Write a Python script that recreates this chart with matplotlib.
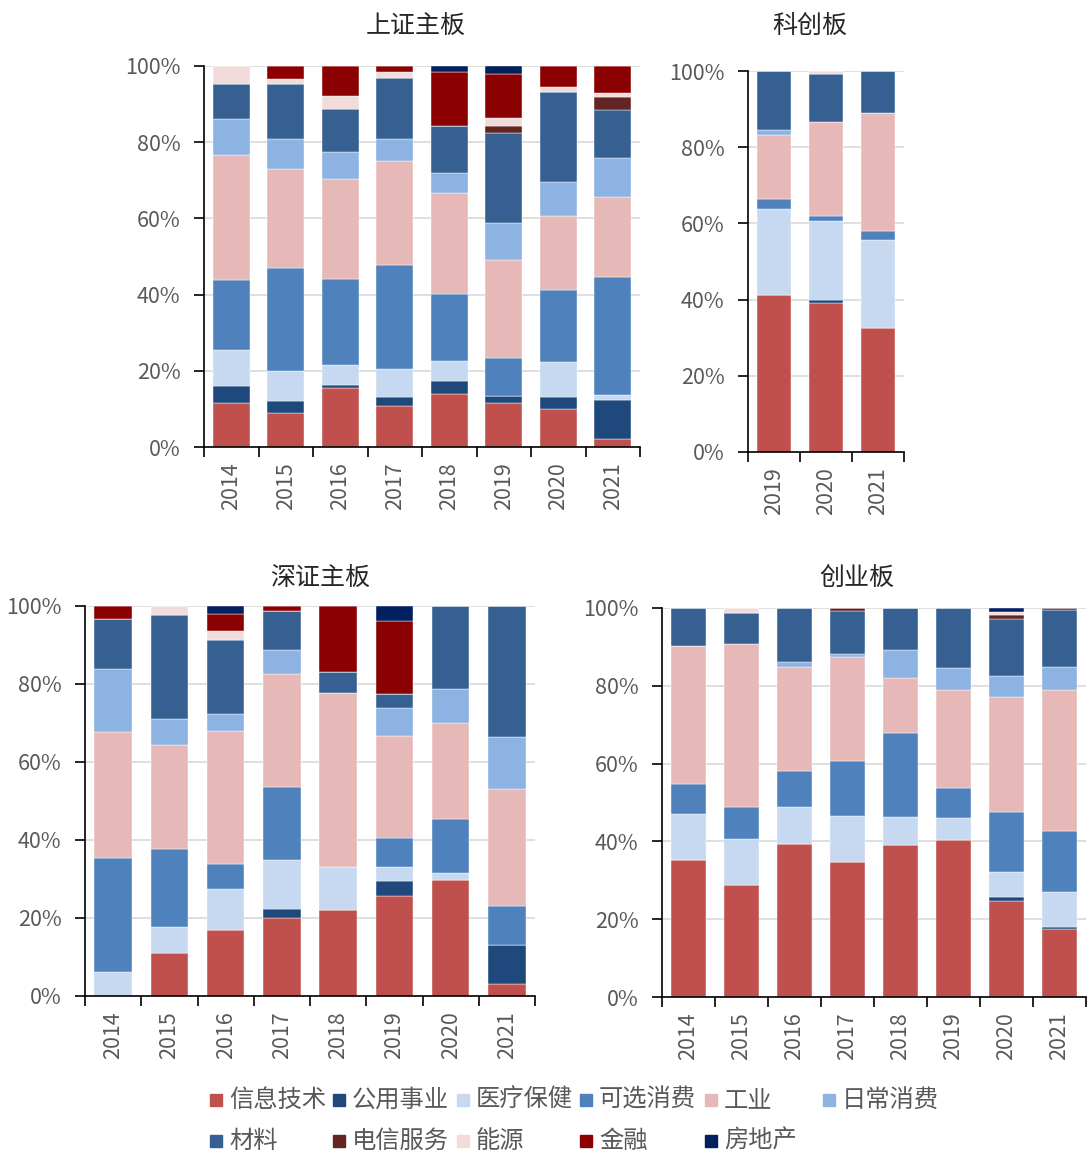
import numpy as np
import matplotlib
matplotlib.use("Agg")
import matplotlib.pyplot as plt
from matplotlib.patches import Rectangle
from matplotlib.ticker import PercentFormatter

plt.rcParams['font.family'] = ['Noto Sans CJK SC', 'DejaVu Sans']

# sector order (bottom -> top) and colours
sectors = ["信息技术", "公用事业", "医疗保健", "可选消费", "工业", "日常消费",
           "材料", "电信服务", "能源", "金融", "房地产"]
colors = ["#C0504D", "#1F497D", "#C6D9F1", "#4F81BD", "#E6B9B8", "#8DB3E2",
          "#366092", "#632523", "#F2DCDB", "#8B0000", "#002060"]

years8 = ["2014", "2015", "2016", "2017", "2018", "2019", "2020", "2021"]
years3 = ["2019", "2020", "2021"]

# 上证主板, % per sector (rows follow `sectors`)
sh_main = [
    [11.5, 8.8, 15.6, 10.8, 13.9, 11.5, 10.0, 2.1],
    [4.6, 3.4, 0.7, 2.2, 3.3, 2.0, 3.2, 10.3],
    [9.3, 7.8, 5.2, 7.5, 5.4, 0.0, 9.2, 1.3],
    [18.5, 27.0, 22.6, 27.3, 17.6, 9.8, 18.9, 31.0],
    [32.8, 26.0, 26.3, 27.2, 26.5, 25.7, 19.3, 20.8],
    [9.4, 7.9, 7.0, 5.8, 5.2, 9.7, 9.0, 10.3],
    [9.2, 14.5, 11.2, 16.1, 12.3, 23.6, 23.6, 12.7],
    [0, 0, 0, 0, 0, 2.0, 0, 3.4],
    [4.7, 1.1, 3.4, 1.6, 0, 2.0, 1.2, 1.1],
    [0, 3.5, 8.0, 1.5, 14.1, 11.7, 5.6, 7.0],
    [0, 0, 0, 0, 1.7, 2.0, 0, 0],
]

# 科创板
star = [
    [41.3, 39.1, 32.5],
    [0, 0.8, 0],
    [22.4, 20.6, 23.1],
    [2.7, 1.4, 2.3],
    [16.8, 24.8, 31.0],
    [1.3, 0, 0],
    [15.5, 12.4, 11.1],
    [0, 0, 0],
    [0, 0.9, 0],
    [0, 0, 0],
    [0, 0, 0],
]

# 深证主板
sz_main = [
    [0, 10.9, 16.8, 19.9, 22.1, 25.7, 29.7, 3.2],
    [0, 0, 0, 2.4, 0, 3.7, 0, 10.0],
    [6.2, 6.8, 10.7, 12.6, 11.1, 3.7, 1.8, 0],
    [29.1, 19.9, 6.4, 18.6, 0, 7.4, 13.9, 9.9],
    [32.4, 26.8, 34.0, 29.0, 44.4, 26.1, 24.7, 30.1],
    [16.1, 6.6, 4.4, 6.2, 0, 7.3, 8.6, 13.3],
    [12.9, 26.7, 19.1, 10.0, 5.6, 3.6, 21.3, 33.5],
    [0, 0, 0, 0, 0, 0, 0, 0],
    [0, 2.3, 2.1, 0, 0, 0, 0, 0],
    [3.3, 0, 4.4, 1.3, 16.8, 18.7, 0, 0],
    [0, 0, 2.1, 0, 0, 3.8, 0, 0],
]

# 创业板
chinext = [
    [35.2, 28.9, 39.4, 34.8, 39.2, 40.3, 24.6, 17.5],
    [0, 0, 0, 0, 0, 0, 1.0, 0.5],
    [11.8, 11.6, 9.4, 11.7, 7.2, 5.8, 6.5, 9.1],
    [7.7, 8.3, 9.3, 14.2, 21.4, 7.7, 15.5, 15.5],
    [35.5, 41.9, 26.8, 26.8, 14.3, 25.0, 29.5, 36.3],
    [0, 0, 1.1, 0.6, 7.1, 5.9, 5.5, 6.0],
    [9.8, 8.1, 14.0, 11.2, 10.8, 15.3, 14.7, 14.5],
    [0, 0, 0, 0.7, 0, 0, 0.9, 0.6],
    [0, 1.2, 0, 0, 0, 0, 0.8, 0],
    [0, 0, 0, 0, 0, 0, 0, 0],
    [0, 0, 0, 0, 0, 0, 1.0, 0],
]

W, H = 1089, 1156
fig = plt.figure(figsize=(W / 100, H / 100), dpi=100)


def px_axes(x0, x1, ytop, ybot):
    return fig.add_axes([x0 / W, 1 - ybot / H, (x1 - x0) / W, (ybot - ytop) / H])


def draw(ax, years, data):
    x = np.arange(len(years))
    bottom = np.zeros(len(years))
    for name, col, vals in zip(sectors, colors, data):
        v = np.array(vals, dtype=float)
        ax.bar(x, v, 0.67, bottom=bottom, color=col, edgecolor="white",
               linewidth=0.3, label=name, zorder=3)
        bottom += v
    ax.set_xlim(-0.5, len(years) - 0.5)
    ax.set_ylim(0, 100)
    ax.set_yticks(np.arange(0, 101, 20))
    ax.yaxis.set_major_formatter(PercentFormatter(decimals=0))
    ax.yaxis.grid(True, color="#D9D9D9", linewidth=1.2, zorder=0)
    ax.set_axisbelow(True)
    # category boundary ticks, labels in the middle
    ax.set_xticks(np.arange(len(years) + 1) - 0.5)
    ax.set_xticklabels([])
    ax.set_xticks(x, minor=True)
    ax.set_xticklabels(years, minor=True, rotation=90)
    ax.tick_params(axis="x", which="major", length=7, width=1.2, direction="out")
    ax.tick_params(axis="x", which="minor", length=0, pad=11, labelsize=15.5,
                   labelcolor="#595959")
    ax.tick_params(axis="y", length=7, width=1.2, direction="out", pad=10,
                   labelsize=15.5, labelcolor="#595959")
    for s in ["top", "right"]:
        ax.spines[s].set_visible(False)
    for s in ["left", "bottom"]:
        ax.spines[s].set_linewidth(1.2)
    ax.spines["bottom"].set_zorder(4)


ax1 = px_axes(204, 640, 66, 447)
draw(ax1, years8, sh_main)
ax2 = px_axes(748, 904, 71, 452)
draw(ax2, years3, star)
ax3 = px_axes(85, 535, 606, 996)
draw(ax3, years8, sz_main)
ax4 = px_axes(662, 1086, 608, 997)
draw(ax4, years8, chinext)

tkw = dict(fontsize=18, color="#262626", ha="center", va="center")
fig.text(416 / W, 1 - 27 / H, "上证主板", **tkw)
fig.text(810 / W, 1 - 27 / H, "科创板", **tkw)
fig.text(320 / W, 1 - 579 / H, "深证主板", **tkw)
fig.text(857 / W, 1 - 579 / H, "创业板", **tkw)

# legend laid out on a fixed grid, two rows of six columns
col_x = [210, 333, 457, 580, 705, 823]
row_y = [1100, 1141]
for i, (name, col) in enumerate(zip(sectors, colors)):
    cx, cy = col_x[i % 6], row_y[i // 6]
    fig.add_artist(Rectangle((cx / W, 1 - (cy + 6) / H), 12 / W, 12 / H,
                             transform=fig.transFigure, color=col))
    fig.text((cx + 19) / W, 1 - cy / H, name, fontsize=17.5, color="#595959",
             ha="left", va="center")

fig.savefig("out.png", dpi=100)
